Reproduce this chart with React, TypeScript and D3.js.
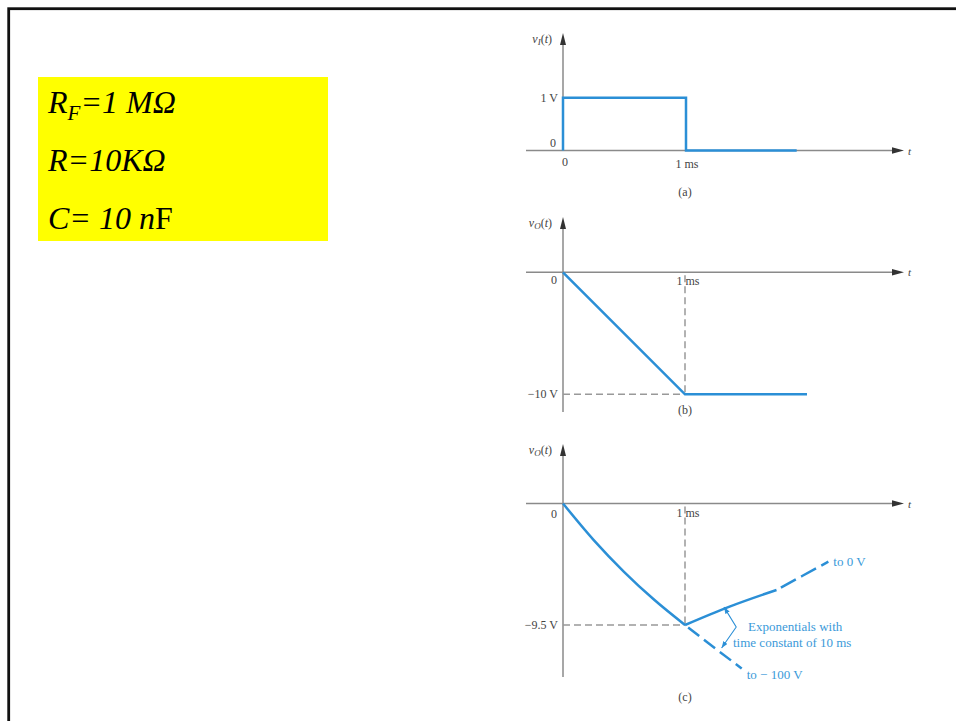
import React from 'react';
import * as d3 from 'd3';

type Pt = [number, number]; // [t in ms, v in volts]

// (a) input pulse v_I(t)
const inputPulse: Pt[] = [[0, 0], [0, 1], [1, 1], [1, 0], [1.9, 0]];
// (b) ideal integrator output
const rampOut: Pt[] = [[0, 0], [1, -10], [2.0, -10]];
// (c) integrator with R_F
const chargeCurve: Pt[] = [[0, 0], [0.25, -2.84], [0.5, -5.34], [0.75, -7.55], [1, -9.5]];
const towardMinus100: Pt[] = [[1, -9.5], [1.23, -11.2], [1.465, -12.9]];
const decaySolid: Pt[] = [[1, -9.5], [1.36, -8.08], [1.75, -6.76]];
const decayDashed: Pt[] = [[1.75, -6.76], [1.96, -5.67], [2.175, -4.55]];
const bracketPts: Pt[] = [[1.32, -8.1], [1.42, -9.66], [1.3, -11.3]];

const panelTags = ['(a)', '(b)', '(c)'];
const levelValues = [1, -10, -9.5];
const levelLabels = ['1 V', '\u221210 V', '\u22129.5 V'];
const yAxisSubs = ['I', 'O', 'O'];
const timeTick = 1;
const timeTickLabel = '1 ms';

const params = ['RF=1 MΩ', 'R=10KΩ', 'C= 10 nF'];

// layout, pixels
const layout = [
  { x0: 563, x1: 686, y0: 150.5, yl: 97.7, top: 33, bottom: 150.5, tagY: 196 },
  { x0: 563, x1: 685, y0: 272.3, yl: 394.3, top: 217, bottom: 412, tagY: 414 },
  { x0: 563, x1: 685, y0: 503.5, yl: 625, top: 444, bottom: 677, tagY: 701 },
];

const BLUE = '#2b8fd6';
const BLUE_TXT = '#3b9ad9';
const AXIS = '#8a8a8a';
const INK = '#444';
const SERIF = '"Liberation Serif", "Times New Roman", serif';
const X_END = 904;

function Panel({ i, children }: { i: number; children: (x: any, y: any) => React.ReactNode }) {
  const L = layout[i];
  const x = d3.scaleLinear().domain([0, timeTick]).range([L.x0, L.x1]);
  const y = d3.scaleLinear().domain([0, levelValues[i]]).range([L.y0, L.yl]);
  const xStart = x(0) - 37;
  return (
    <g>
      {/* horizontal axis */}
      <line x1={xStart} x2={X_END - 10} y1={y(0)} y2={y(0)} stroke={AXIS} strokeWidth={1.5} />
      <path d={`M${X_END},${y(0)} L${X_END - 12},${y(0) - 3.2} L${X_END - 12},${y(0) + 3.2} Z`} fill="#333" />
      <text x={X_END + 4} y={y(0) + 4} fontFamily={SERIF} fontStyle="italic" fontSize={11} fill={INK}>t</text>
      {/* vertical axis */}
      <line x1={x(0)} x2={x(0)} y1={L.top + 8} y2={L.bottom} stroke={AXIS} strokeWidth={1.5} />
      <path d={`M${x(0)},${L.top} L${x(0) - 3},${L.top + 12} L${x(0) + 3},${L.top + 12} Z`} fill="#333" />
      <text x={x(0) - 11} y={L.top + 10} textAnchor="end" fontFamily={SERIF} fontSize={12} fill={INK}>
        <tspan fontStyle="italic">v</tspan>
        <tspan fontSize={9} dy={2} fontStyle="italic">{yAxisSubs[i]}</tspan>
        <tspan dy={-2}>(</tspan>
        <tspan fontStyle="italic">t</tspan>
        <tspan>)</tspan>
      </text>
      <text x={x(0) - 5} y={y(levelValues[i]) + 4} textAnchor="end" fontFamily={SERIF} fontSize={12} fill={INK}>
        {levelLabels[i]}
      </text>
      <text x={x(0) + 5} y={L.tagY} fontFamily={SERIF} fontSize={12} fill={INK} textAnchor="middle" dx={117}>
        {panelTags[i]}
      </text>
      {children(x, y)}
    </g>
  );
}

const App = () => {
  const mk = (x: any, y: any, curve: any = d3.curveLinear) =>
    d3.line<Pt>().x(d => x(d[0])).y(d => y(d[1])).curve(curve);

  return (
    <svg width={956} height={721} style={{ position: 'absolute', left: 0, top: 0, background: '#fff' }}>
      <defs>
        <marker id="ah" viewBox="0 0 8 6" refX={8} refY={3} markerWidth={7} markerHeight={5}
          markerUnits="userSpaceOnUse" orient="auto-start-reverse">
          <path d="M0,0 L8,3 L0,6 Z" fill={BLUE} />
        </marker>
      </defs>
      <rect x={8.7} y={8.7} width={1200} height={1200} fill="none" stroke="#111" strokeWidth={2.8} />

      {/* parameter box */}
      <rect x={38} y={77} width={290} height={164} fill="#ffff00" />
      <text x={48} y={113} fontFamily={SERIF} fontStyle="italic" fontSize={32} fill="#000">
        {params[0].slice(0, 1)}
        <tspan fontSize={21} dy={7}>{params[0].slice(1, 2)}</tspan>
        <tspan dy={-7}>{params[0].slice(2)}</tspan>
      </text>
      <text x={48} y={171} fontFamily={SERIF} fontStyle="italic" fontSize={32} fill="#000">{params[1]}</text>
      <text x={48} y={229} fontFamily={SERIF} fontSize={32} fill="#000">
        <tspan fontStyle="italic">{params[2].slice(0, 6)}</tspan>
        <tspan fontStyle="italic">{params[2].slice(6, 7)}</tspan>
        <tspan>{params[2].slice(7)}</tspan>
      </text>

      {/* (a) */}
      <Panel i={0}>
        {(x, y) => (
          <g>
            <text x={x(0) - 10} y={y(0) - 3.5} textAnchor="middle" fontFamily={SERIF} fontSize={12} fill={INK}>0</text>
            <text x={x(0) + 2} y={y(0) + 15} textAnchor="middle" fontFamily={SERIF} fontSize={12} fill={INK}>0</text>
            <text x={x(timeTick) + 1} y={y(0) + 17} textAnchor="middle" fontFamily={SERIF} fontSize={12} fill={INK}>{timeTickLabel}</text>
            <path d={mk(x, y)(inputPulse) || ''} fill="none" stroke={BLUE} strokeWidth={2.5} />
          </g>
        )}
      </Panel>

      {/* (b) */}
      <Panel i={1}>
        {(x, y) => (
          <g>
            <text x={x(0) - 9} y={y(0) + 12} textAnchor="middle" fontFamily={SERIF} fontSize={12} fill={INK}>0</text>
            <text x={x(timeTick) + 3} y={y(0) + 13} textAnchor="middle" fontFamily={SERIF} fontSize={12} fill={INK}>{timeTickLabel}</text>
            <line x1={x(timeTick)} x2={x(timeTick)} y1={y(0) + 3} y2={y(levelValues[1])} stroke="#999" strokeWidth={1.5} strokeDasharray="7 4" />
            <line x1={x(0)} x2={x(timeTick)} y1={y(levelValues[1])} y2={y(levelValues[1])} stroke="#999" strokeWidth={1.5} strokeDasharray="7 4" />
            <path d={mk(x, y)(rampOut) || ''} fill="none" stroke={BLUE} strokeWidth={2.5} />
          </g>
        )}
      </Panel>

      {/* (c) */}
      <Panel i={2}>
        {(x, y) => (
          <g>
            <text x={x(0) - 9} y={y(0) + 14} textAnchor="middle" fontFamily={SERIF} fontSize={12} fill={INK}>0</text>
            <text x={x(timeTick) + 3} y={y(0) + 13} textAnchor="middle" fontFamily={SERIF} fontSize={12} fill={INK}>{timeTickLabel}</text>
            <line x1={x(timeTick)} x2={x(timeTick)} y1={y(0) + 3} y2={y(levelValues[2])} stroke="#999" strokeWidth={1.5} strokeDasharray="7 4" />
            <line x1={x(0)} x2={x(timeTick)} y1={y(levelValues[2])} y2={y(levelValues[2])} stroke="#999" strokeWidth={1.5} strokeDasharray="7 4" />
            <path d={mk(x, y, d3.curveMonotoneX)(chargeCurve) || ''} fill="none" stroke={BLUE} strokeWidth={2.5} />
            <path d={mk(x, y, d3.curveMonotoneX)(towardMinus100) || ''} fill="none" stroke={BLUE} strokeWidth={2.5} strokeDasharray="14 6" strokeDashoffset={-4} />
            <path d={mk(x, y, d3.curveMonotoneX)(decaySolid) || ''} fill="none" stroke={BLUE} strokeWidth={2.5} />
            <path d={mk(x, y, d3.curveMonotoneX)(decayDashed) || ''} fill="none" stroke={BLUE} strokeWidth={2.5} strokeDasharray="17 6" strokeDashoffset={-5} />
            <path d={mk(x, y, d3.curveLinear)(bracketPts) || ''} fill="none" stroke={BLUE} strokeWidth={1.1}
              strokeLinejoin="round" markerStart="url(#ah)" markerEnd="url(#ah)" />
            <text x={x(decayDashed[2][0]) + 5} y={y(decayDashed[2][1]) + 4} fontFamily={SERIF} fontSize={13} fill={BLUE_TXT}>to 0 V</text>
            <text x={x(towardMinus100[2][0]) + 5} y={y(towardMinus100[2][1]) + 11} fontFamily={SERIF} fontSize={13} fill={BLUE_TXT}>to − 100 V</text>
            <text x={748} y={631} fontFamily={SERIF} fontSize={13} fill={BLUE_TXT}>Exponentials with</text>
            <text x={733} y={647} fontFamily={SERIF} fontSize={13} fill={BLUE_TXT}>time constant of 10 ms</text>
          </g>
        )}
      </Panel>
    </svg>
  );
};

export default App;
